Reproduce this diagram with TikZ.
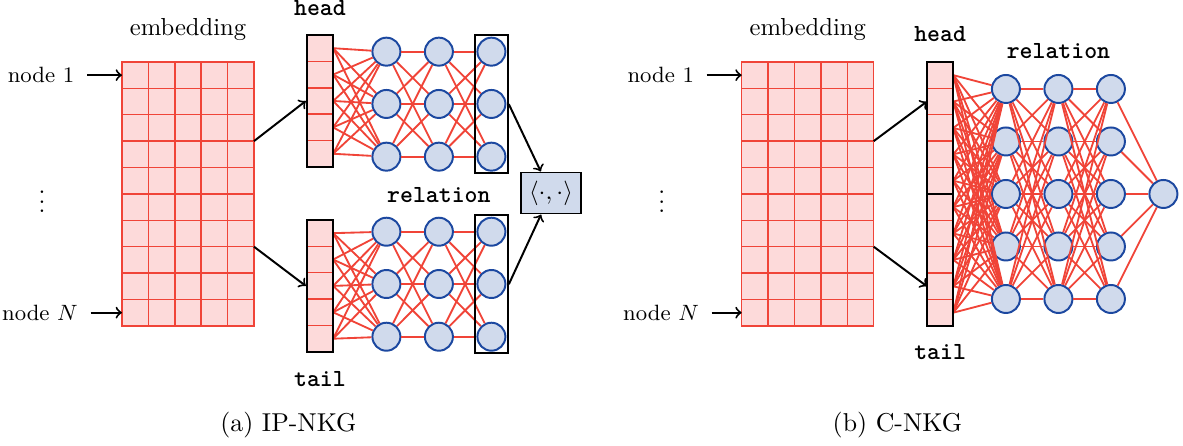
\documentclass[tikz,border=0pt]{standalone}
\usepackage{amsmath}
\usetikzlibrary{positioning, fit, arrows}
\definecolor{netred}{RGB}{240,68,56}
\definecolor{cellpink}{RGB}{253,218,218}
\definecolor{unitblue}{RGB}{208,218,236}
\definecolor{unitedge}{RGB}{28,72,160}

\begin{document}
\begin{tikzpicture}
    \tikzstyle{cell}  = [rectangle, draw=netred, fill=cellpink, line width=0.6pt, minimum size=0.377cm, inner sep=0, outer sep=0]
    \tikzstyle{unit}  = [circle, draw=unitedge, fill=unitblue, line width=0.8pt, minimum size=0.4cm, inner sep=0]
    \tikzstyle{frame} = [rectangle, draw=black, line width=0.8pt, inner sep=0]
    \tikzstyle{link}  = [draw=netred, line width=0.75pt]
    \tikzstyle{arrow} = [thick, ->]
    \tikzstyle{lbl}   = [font=\fontsize{9}{11}\selectfont, inner xsep=5pt]
    \tikzstyle{vec}   = [font=\ttfamily\bfseries, anchor=base]
    \tikzstyle{subcap} = [font=\fontsize{10.5}{13}\selectfont, anchor=base]
    \useasboundingbox (0,0) rectangle (16.9,6.371);

    % (a) IP-NKG
    \foreach \r in {1,...,10}
        \foreach \c in {1,...,5}
            \node[cell] (ea-\r-\c) at ({1.743+0.377*(\c-0.5)}, {5.486-0.377*(\r-0.5)}) {};
    \node[anchor=base] (embla) at (2.686, 5.864) {embedding};
    \node[lbl, left=0.5cm of ea-1-1] (n1a) {node 1};
    \node[lbl, left=0.45cm of ea-10-1] (nna) {node $N$};
    \node[anchor=base] (dota) at (0.6, 3.33) {$\vdots$};
    \draw[arrow] (n1a.east) -- (ea-1-1.west);
    \draw[arrow] (nna.east) -- (ea-10-1.west);

    \foreach \i in {1,...,5} {
        \node[cell] (ha-\i) at (4.571, {5.871-0.377*(\i-0.5)}) {};
        \node[cell] (ta-\i) at (4.571, {3.229-0.377*(\i-0.5)}) {};
    }
    \foreach \j/\x in {1/5.52, 2/6.27, 3/7.02} {
        \foreach \i/\y in {1/5.633, 2/4.886, 3/4.133}
            \node[unit] (pa-\j-\i) at (\x, \y) {};
        \foreach \i/\y in {1/3.061, 2/2.314, 3/1.561}
            \node[unit] (qa-\j-\i) at (\x, \y) {};
    }
    \foreach \i in {1,...,5}
        \foreach \k in {1,2,3} {
            \draw[link] (ha-\i.east) -- (pa-1-\k);
            \draw[link] (ta-\i.east) -- (qa-1-\k);
        }
    \foreach \j/\n in {1/2, 2/3}
        \foreach \i in {1,2,3}
            \foreach \k in {1,2,3} {
                \draw[link] (pa-\j-\i) -- (pa-\n-\k);
                \draw[link] (qa-\j-\i) -- (qa-\n-\k);
            }
    \node[frame, fit=(ha-1)(ha-5)] (heada) {};
    \node[frame, fit=(ta-1)(ta-5)] (taila) {};
    \node[frame, fit=(pa-3-1)(pa-3-3), inner sep=0.6pt] (outpa) {};
    \node[frame, fit=(qa-3-1)(qa-3-3), inner sep=0.6pt] (outqa) {};
    \node[frame, fill=unitblue, minimum width=0.857cm, minimum height=0.586cm] (ip) at (7.871, 3.614) {$\langle\cdot,\cdot\rangle$};
    \node[vec] (hla) at (4.571, 6.143) {head};
    \node[vec] (tla) at (4.571, 0.847) {tail};
    \node[vec] (rla) at (6.27, 3.476) {relation};
    \draw[arrow] (ea-3-5.south east) -- (heada.west);
    \draw[arrow] (ea-7-5.south east) -- (taila.west);
    \draw[arrow] (outpa.east) -- (ip);
    \draw[arrow] (outqa.east) -- (ip);
    \node[subcap] (capa) at (4.12, 0.204) {(a) IP-NKG};

    % (b) C-NKG
    \foreach \r in {1,...,10}
        \foreach \c in {1,...,5}
            \node[cell] (eb-\r-\c) at ({10.596+0.377*(\c-0.5)}, {5.486-0.377*(\r-0.5)}) {};
    \node[anchor=base] (emblb) at (11.54, 5.864) {embedding};
    \node[lbl, left=0.5cm of eb-1-1] (n1b) {node 1};
    \node[lbl, left=0.43cm of eb-10-1] (nnb) {node $N$};
    \node[anchor=base] (dotb) at (9.453, 3.33) {$\vdots$};
    \draw[arrow] (n1b.east) -- (eb-1-1.west);
    \draw[arrow] (nnb.east) -- (eb-10-1.west);

    \foreach \i in {1,...,10}
        \node[cell] (vb-\i) at (13.43, {5.486-0.377*(\i-0.5)}) {};
    \foreach \j/\x in {1/14.37, 2/15.12, 3/15.87}
        \foreach \i/\y in {1/5.1, 2/4.35, 3/3.6, 4/2.85, 5/2.1}
            \node[unit] (rb-\j-\i) at (\x, \y) {};
    \node[unit] (ob) at (16.62, 3.6) {};
    \foreach \i in {1,...,10}
        \foreach \k in {1,...,5}
            \draw[link] (vb-\i.east) -- (rb-1-\k);
    \foreach \j/\n in {1/2, 2/3}
        \foreach \i in {1,...,5}
            \foreach \k in {1,...,5}
                \draw[link] (rb-\j-\i) -- (rb-\n-\k);
    \foreach \i in {1,...,5}
        \draw[link] (rb-3-\i) -- (ob);
    \node[frame, fit=(vb-1)(vb-5)] (headb) {};
    \node[frame, fit=(vb-6)(vb-10)] (tailb) {};
    \node[vec] (hlb) at (13.43, 5.776) {head};
    \node[vec] (tlb) at (13.43, 1.238) {tail};
    \node[vec] (rlb) at (15.12, 5.538) {relation};
    \draw[arrow] (eb-3-5.south east) -- (vb-2.west);
    \draw[arrow] (eb-7-5.south east) -- (vb-9.west);
    \node[subcap] (capb) at (12.82, 0.204) {(b) C-NKG};
\end{tikzpicture}
\end{document}
